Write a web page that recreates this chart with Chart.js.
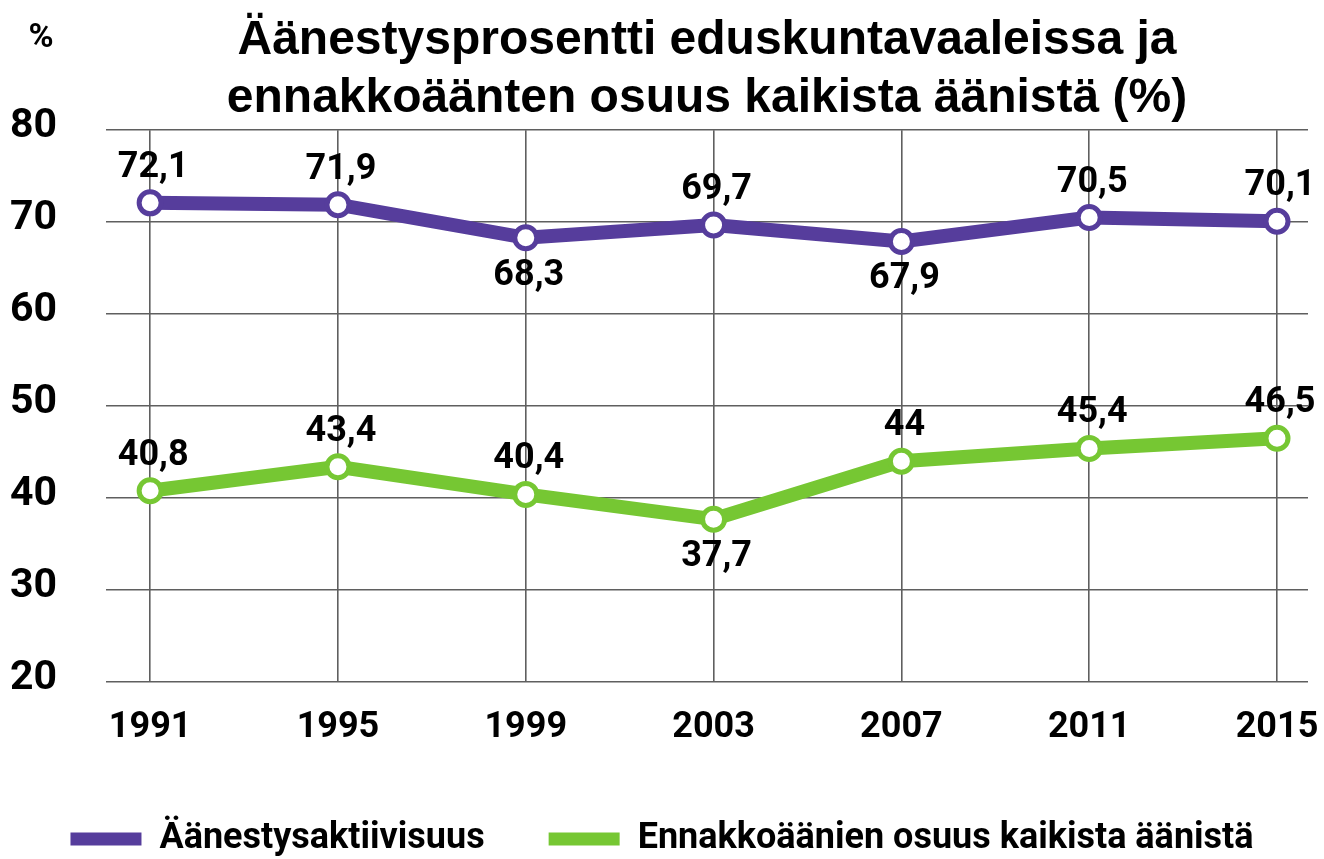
<!DOCTYPE html>
<html>
<head>
<meta charset="utf-8">
<script src="https://cdn.jsdelivr.net/npm/chart.js@4.4.1/dist/chart.umd.min.js"></script>
<style>
  html, body { margin: 0; padding: 0; background: #ffffff; }
  #wrap { width: 1324px; height: 859px; }
</style>
</head>
<body>
<div id="wrap"><canvas id="chartVaalit"></canvas></div>
<script>
// ===== DATA =====
const years = [1991, 1995, 1999, 2003, 2007, 2011, 2015];
const turnout = [72.1, 71.9, 68.3, 69.7, 67.9, 70.5, 70.1];
const advanceShare = [40.8, 43.4, 40.4, 37.7, 44, 45.4, 46.5];
const yTicks = [20, 30, 40, 50, 60, 70, 80];
const seriesNames = ['Äänestysaktiivisuus', 'Ennakkoäänien osuus kaikista äänistä'];
const titleLines = ['Äänestysprosentti eduskuntavaaleissa ja', 'ennakkoäänten osuus kaikista äänistä (%)'];
const unitLabel = '%';

const COLORS = {
  purple: '#563d9c',
  green: '#76c733',
  grid: '#5f5f5f',
  text: '#000000',
  none: 'rgba(0,0,0,0)',
};

const LABEL_FONT = "Roboto, 'Liberation Sans', sans-serif";

const fmt = v => String(v).replace('.', ',');

// value labels: interior local minima go below the point, others above
const valueLabels = {
  id: 'valueLabels',
  afterDatasetsDraw(chart) {
    const ctx = chart.ctx;
    ctx.save();
    ctx.font = `bold 36px ${LABEL_FONT}`;
    ctx.fillStyle = COLORS.text;
    ctx.textAlign = 'center';
    ctx.textBaseline = 'middle';
    chart.data.datasets.forEach((ds, di) => {
      const meta = chart.getDatasetMeta(di);
      const vals = ds.data.map(p => p.y);
      meta.data.forEach((pt, i) => {
        const v = vals[i];
        const below = i > 0 && i < vals.length - 1 && v < vals[i - 1] && v < vals[i + 1];
        const y = below ? pt.y + 38 : pt.y - 35;
        ctx.fillText(fmt(v), pt.x + 3, y);
      });
    });
    ctx.restore();
  }
};

// unit sign in the top left corner
const unitSign = {
  id: 'unitSign',
  afterDraw(chart) {
    const ctx = chart.ctx;
    ctx.save();
    ctx.font = `bold 34px ${LABEL_FONT}`;
    ctx.fillStyle = COLORS.text;
    ctx.textAlign = 'center';
    ctx.textBaseline = 'middle';
    ctx.fillText(unitLabel, 41, 38);
    ctx.restore();
  }
};

const lineStyle = color => ({
  borderColor: color,
  backgroundColor: color,
  borderWidth: 14,
  pointRadius: 11,
  pointHoverRadius: 11,
  pointBorderWidth: 5,
  pointBackgroundColor: '#ffffff',
  pointBorderColor: color,
  tension: 0,
  fill: false,
});

const noPadding = axis => {
  axis.paddingLeft = 0;
  axis.paddingRight = 0;
  axis.paddingTop = 0;
  axis.paddingBottom = 0;
};

const ctxVaalit = document.getElementById('chartVaalit');
new Chart(ctxVaalit, {
  type: 'line',
  data: {
    datasets: [
      {
        label: seriesNames[0],
        data: years.map((x, i) => ({ x, y: turnout[i] })),
        ...lineStyle(COLORS.purple),
      },
      {
        label: seriesNames[1],
        data: years.map((x, i) => ({ x, y: advanceShare[i] })),
        ...lineStyle(COLORS.green),
      }
    ]
  },
  options: {
    responsive: true,
    maintainAspectRatio: false,
    animation: false,
    layout: { padding: { left: 0, right: 0, top: 0, bottom: -8 } },
    plugins: {
      tooltip: { enabled: false },
      title: {
        display: true,
        text: titleLines,
        fullSize: false,
        color: COLORS.text,
        font: { family: "'Liberation Sans', Arial, sans-serif", size: 48, weight: 'bold', lineHeight: 1.2 },
        padding: { top: 12, bottom: 3 },
      },
      legend: {
        position: 'bottom',
        labels: {
          boxWidth: 71,
          boxHeight: 13,
          useBorderRadius: true,
          borderRadius: 6.5,
          padding: 64,
          color: COLORS.text,
          font: { family: LABEL_FONT, size: 36, weight: 'bold' },
          generateLabels(chart) {
            return chart.data.datasets.map((ds, i) => ({
              text: ds.label,
              fillStyle: ds.borderColor,
              strokeStyle: ds.borderColor,
              lineWidth: 0,
              fontColor: COLORS.text,
              datasetIndex: i,
              hidden: false,
            }));
          }
        }
      }
    },
    scales: {
      x: {
        type: 'linear',
        min: 1990.06,
        max: 2015.66,
        afterBuildTicks: axis => { axis.ticks = years.map(v => ({ value: v })); },
        afterFit: axis => {
          axis.height = 75;
          noPadding(axis);
        },
        border: { display: false },
        grid: { color: COLORS.grid, lineWidth: 1.6, drawTicks: true, tickLength: 24, tickColor: COLORS.none },
        ticks: {
          color: COLORS.text,
          padding: 0,
          autoSkip: false,
          maxRotation: 0,
          font: { family: LABEL_FONT, size: 36, weight: 'bold' },
          callback: v => String(v),
        }
      },
      y: {
        min: 20,
        max: 80,
        afterBuildTicks: axis => { axis.ticks = yTicks.map(v => ({ value: v })); },
        afterFit: axis => {
          axis.width = 106;
          noPadding(axis);
        },
        border: { display: false },
        grid: { color: COLORS.grid, lineWidth: 1.6, drawTicks: true, tickLength: 49, tickColor: COLORS.none },
        ticks: {
          color: COLORS.text,
          padding: 0,
          autoSkip: false,
          labelOffset: -3,
          font: { family: LABEL_FONT, size: 41, weight: 'bold' },
        }
      }
    }
  },
  plugins: [valueLabels, unitSign]
});
</script>
</body>
</html>
